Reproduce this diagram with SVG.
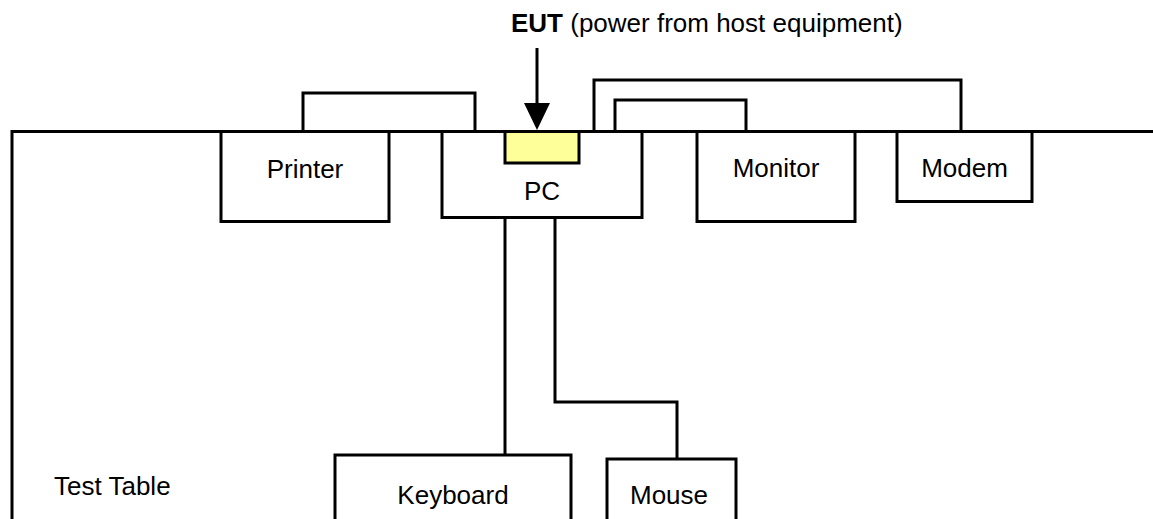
<svg xmlns="http://www.w3.org/2000/svg" width="1153" height="519" viewBox="0 0 1153 519">
<defs>
<style>
.box{fill:#fff;stroke:#000;stroke-width:3}
.ln{fill:none;stroke:#000;stroke-width:3}
.t{font-family:"Liberation Sans",Arial,sans-serif;font-size:26px;fill:#000}
.c{text-anchor:middle}
</style>
</defs>
<rect width="1153" height="519" fill="#fff"/>
<g id="table">
<path class="ln" d="M12,519 V131.5 H1153"/>
<text class="t" x="54" y="495">Test Table</text>
</g>
<g id="connectors">
<path class="ln" d="M303,131 V93 H475 V131"/>
<path class="ln" d="M594,131 V80 H961 V131"/>
<path class="ln" d="M615,131 V100 H746 V131"/>
<path class="ln" d="M505,218 V455"/>
<path class="ln" d="M555,218 V402 H677 V459"/>
<path class="ln" d="M537,48 V104"/>
<polygon points="524,103 550,103 537,130" fill="#000"/>
</g>
<g id="printer">
<rect class="box" x="221" y="131.5" width="168" height="90"/>
<text class="t c" x="305" y="178">Printer</text>
</g>
<g id="pc">
<rect class="box" x="442" y="131.5" width="200" height="86"/>
<text class="t c" x="542" y="200">PC</text>
</g>
<g id="eut">
<rect x="505" y="131.5" width="74" height="31.5" fill="#FFFF99" stroke="#000" stroke-width="3"/>
<text class="t" x="511" y="32"><tspan font-weight="bold">EUT</tspan> (power from host equipment)</text>
</g>
<g id="monitor">
<rect class="box" x="697" y="131.5" width="158" height="90"/>
<text class="t c" x="776" y="177">Monitor</text>
</g>
<g id="modem">
<rect class="box" x="897" y="131.5" width="135" height="70"/>
<text class="t c" x="964.5" y="177">Modem</text>
</g>
<g id="keyboard">
<rect class="box" x="335" y="455" width="236" height="80"/>
<text class="t c" x="453" y="504">Keyboard</text>
</g>
<g id="mouse">
<rect class="box" x="607" y="459" width="129" height="80"/>
<text class="t c" x="669" y="504">Mouse</text>
</g>
</svg>
